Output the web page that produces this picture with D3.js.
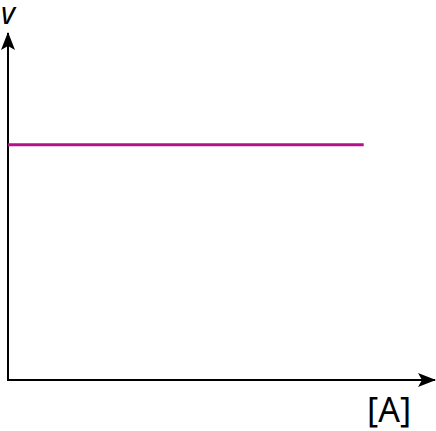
<!DOCTYPE html>
<html><head><meta charset="utf-8">
<script src="https://cdn.jsdelivr.net/npm/d3@7"></script>
<style>body{margin:0;background:#fff}svg{display:block}</style>
</head><body>
<script>
const xDomain = [0, 1];
const yDomain = [0, 1];
const rateSeries = [{x: 0, y: 0.682}, {x: 0.833, y: 0.682}];
const labels = {x: "[A]", y: "v"};

const W = 436, H = 431;
const ox = 8, oy = 380;
const x = d3.scaleLinear().domain(xDomain).range([ox, 435]);
const y = d3.scaleLinear().domain(yDomain).range([oy, 35]);

const svg = d3.select("body").append("svg").attr("width", W).attr("height", H);
const defs = svg.append("defs");
defs.append("marker").attr("id","arr").attr("viewBox","0 0 18 14").attr("refX",17).attr("refY",7)
  .attr("markerWidth",18).attr("markerHeight",14).attr("markerUnits","userSpaceOnUse").attr("orient","auto")
  .append("path").attr("d","M0,0 L18,7 L0,14 L4,7 Z").attr("fill","#000");

// axes
svg.append("line").attr("x1", x(0)).attr("y1", y(0)).attr("x2", x(0)).attr("y2", 33)
  .attr("stroke","#000").attr("stroke-width",2).attr("marker-end","url(#arr)");
svg.append("line").attr("x1", x(0)-1).attr("y1", y(0)).attr("x2", 435).attr("y2", y(0))
  .attr("stroke","#000").attr("stroke-width",2).attr("marker-end","url(#arr)");

const line = d3.line().x(d=>x(d.x)).y(d=>y(d.y));
svg.append("path").datum(rateSeries).attr("d", line).attr("fill","none")
  .attr("stroke","#b5128a").attr("stroke-width",3);

svg.append("text").attr("x",1).attr("y",24).attr("font-family","Noto Sans").attr("font-style","italic")
  .attr("font-size",30).text(labels.y);
svg.append("text").attr("x",367).attr("y",422).attr("font-family","Noto Sans")
  .attr("font-size",34).text(labels.x);
</script>
</body></html>
